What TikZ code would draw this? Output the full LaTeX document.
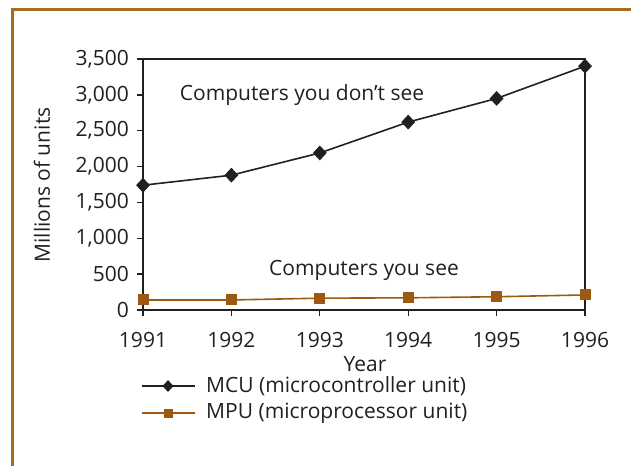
\documentclass[tikz,border=0pt]{standalone}
\usepackage{fontspec}
\setmainfont{Open Sans}
\usetikzlibrary{shapes.geometric}
\definecolor{brn}{HTML}{9C5A10}
\definecolor{frm}{HTML}{A86C20}
\definecolor{ink}{HTML}{231F20}
\tikzset{
  axis/.style={draw=ink, line width=1.3pt},
  mculine/.style={draw=ink, line width=1.6pt},
  mpuline/.style={draw=brn, line width=1.6pt},
  dmark/.style={diamond, fill=ink, inner sep=0pt, minimum width=14pt, minimum height=15pt},
  smark/.style={rectangle, fill=brn, inner sep=0pt, minimum size=11pt},
  ldmark/.style={diamond, fill=ink, inner sep=0pt, minimum width=11pt, minimum height=12pt},
  lsmark/.style={rectangle, fill=brn, inner sep=0pt, minimum size=9pt},
  lbl/.style={font=\fontsize{21}{23}\selectfont, text=ink, inner sep=0pt},
}
\begin{document}
\begin{tikzpicture}[x=1pt, y=-1pt]
\useasboundingbox (0,0) rectangle (631,466);
% frame
\draw[frm, line width=3pt] (12,466) -- (12,9) -- (631,9);
% plot box
\coordinate (bl) at (143,310);
\coordinate (tr) at (585,59);
\draw[axis] (bl) rectangle (tr);
% y ticks and labels
\foreach \v/\t [count=\i from 0] in {0/0,500/500,1000/{1,000},1500/{1,500},2000/{2,000},2500/{2,500},3000/{3,000},3500/{3,500}} {
  \pgfmathsetmacro{\yy}{310-\v/3500*251}
  \draw[axis] (137,\yy) -- (143,\yy);
  \node[lbl, anchor=east] (yl\i) at (129,\yy) {\t};
}
% x ticks and labels
\foreach \yr [count=\i from 0] in {1991,...,1996} {
  \pgfmathsetmacro{\xx}{143+\i*88.4}
  \draw[axis] (\xx,310) -- (\xx,316);
  \node[lbl] (xl\i) at (\xx,340) {\yr};
}
\node[lbl] (ytitle) at (365,364) {Year};
\node[lbl, rotate=90] (ylab) at (42,185) {Millions of units};
% data
\foreach \v [count=\i from 0] in {1740,1880,2190,2620,2950,3400} {
  \coordinate (m\i) at ({143+\i*88.4},{310-\v/3500*251});
}
\foreach \v [count=\i from 0] in {140,140,165,170,185,210} {
  \coordinate (p\i) at ({143+\i*88.4},{310-\v/3500*251});
}
\draw[mculine] (m0) -- (m1) -- (m2) -- (m3) -- (m4) -- (m5);
\draw[mpuline] (p0) -- (p1) -- (p2) -- (p3) -- (p4) -- (p5);
\foreach \i in {0,...,5} {
  \node[dmark] (dm\i) at (m\i) {};
  \node[smark] (sm\i) at (p\i) {};
}
\node[lbl] (t1) at (302,95) {Computers you don’t see};
\node[lbl] (t2) at (364,270) {Computers you see};
% legend
\coordinate (la) at (142,386);
\coordinate (lb) at (195,386);
\draw[draw=ink, line width=1.3pt] (la) -- (lb);
\node[ldmark] (ld) at (168,386) {};
\node[lbl, anchor=west] (lt1) at (206,386) {MCU (microcontroller unit)};
\coordinate (lc) at (142,413);
\coordinate (ld2) at (195,413);
\draw[draw=brn, line width=1.3pt] (lc) -- (ld2);
\node[lsmark] (ls) at (168,413) {};
\node[lbl, anchor=west] (lt2) at (206,413) {MPU (microprocessor unit)};
\end{tikzpicture}
\end{document}
